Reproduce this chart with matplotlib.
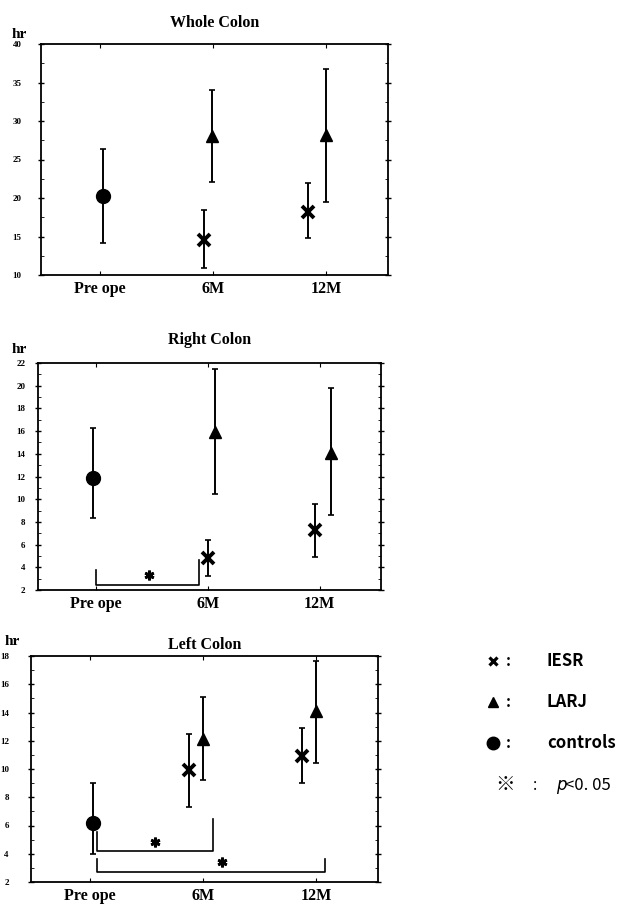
import matplotlib
matplotlib.use("Agg")
from matplotlib import pyplot as plt
from matplotlib.ticker import MultipleLocator

# Categories on the x axis
categories = ["Pre ope", "6M", "12M"]

# Whole colon (hr): mean, lower and upper end of the error bar
whole_ctrl = [20.2]
whole_ctrl_lo = [14.2]
whole_ctrl_hi = [26.4]
whole_iesr = [14.6, 18.2]
whole_iesr_lo = [10.9, 14.8]
whole_iesr_hi = [18.5, 22.0]
whole_larj = [28.0, 28.2]
whole_larj_lo = [22.1, 19.5]
whole_larj_hi = [34.0, 36.8]

# Right colon
right_ctrl = [11.9]
right_ctrl_lo = [8.3]
right_ctrl_hi = [16.3]
right_iesr = [4.8, 7.3]
right_iesr_lo = [3.2, 4.9]
right_iesr_hi = [6.4, 9.6]
right_larj = [15.9, 14.1]
right_larj_lo = [10.5, 8.6]
right_larj_hi = [21.5, 19.8]

# Left colon
left_ctrl = [6.2]
left_ctrl_lo = [4.0]
left_ctrl_hi = [9.0]
left_iesr = [9.9, 10.9]
left_iesr_lo = [7.3, 9.0]
left_iesr_hi = [12.45, 12.9]
left_larj = [12.1, 14.1]
left_larj_lo = [9.2, 10.4]
left_larj_hi = [15.1, 17.65]

# Legend entries
legend_names = ["IESR", "LARJ", "controls"]

W, H = 627, 911
SERIF = "Liberation Serif"
GOTHIC = ["Noto Sans CJK JP", "DejaVu Sans"]
MARKERS = {"IESR": ("x", 8, 2.8), "LARJ": ("^", 8, 1), "controls": ("o", 10, 1)}


def px_rect(l, t, r, b):
    return [l / W, 1 - b / H, (r - l) / W, (b - t) / H]


def px(x, y):
    return x / W, 1 - y / H


def draw_series(ax, name, cats, mean, lo, hi, offs):
    xs = [categories.index(c) + o for c, o in zip(cats, offs)]
    yerr = [[m - l for m, l in zip(mean, lo)], [h - m for m, h in zip(mean, hi)]]
    ax.errorbar(xs, mean, yerr=yerr, fmt="none", ecolor="black",
                elinewidth=1.4, capsize=2.5, capthick=1.2)
    m, ms, mew = MARKERS[name]
    ax.plot(xs, mean, m, color="black", ms=ms, mew=mew, zorder=3)


def bracket(ax, x0, x1, y0, yl, yr, sx, sy):
    # significance bracket with a six-armed star
    ax.plot([x0, x0, x1, x1], [yl, y0, y0, yr], color="black", lw=1.2)
    ax.plot([sx], [sy], marker=(6, 2, 0), color="black", ms=7, mew=2)


def setup(ax, title, pad, ymin, ymax, ystep, lpad):
    ax.set_xlim(-0.52, 2.55)
    ax.set_ylim(ymin, ymax)
    ax.set_xticks(range(len(categories)))
    ax.set_xticklabels(categories, family=SERIF, fontsize=11.5, fontweight="bold")
    ax.yaxis.set_major_locator(MultipleLocator(ystep))
    ax.yaxis.set_minor_locator(MultipleLocator(ystep / 2))
    for lab in ax.get_yticklabels():
        lab.set_fontweight("bold")
        lab.set_fontsize(6.5)
        lab.set_family(SERIF)
    ax.tick_params(axis="y", which="major", direction="inout", length=4,
                   right=True, pad=lpad, width=1)
    ax.tick_params(axis="y", which="minor", direction="in", length=2, right=True)
    ax.tick_params(axis="x", direction="in", length=3, top=True, pad=4)
    for s in ax.spines.values():
        s.set_linewidth(1.3)
    ax.set_title(title, family=SERIF, fontsize=11.5, fontweight="bold", pad=pad)


fig = plt.figure(figsize=(6.27, 9.11), dpi=100)

# Whole colon
ax1 = fig.add_axes(px_rect(41, 44, 388, 275))
draw_series(ax1, "controls", ["Pre ope"], whole_ctrl, whole_ctrl_lo, whole_ctrl_hi, [0.03])
draw_series(ax1, "IESR", ["6M", "12M"], whole_iesr, whole_iesr_lo, whole_iesr_hi, [-0.08, -0.16])
draw_series(ax1, "LARJ", ["6M", "12M"], whole_larj, whole_larj_lo, whole_larj_hi, [-0.01, 0.0])
setup(ax1, "Whole Colon", 12, 10, 40, 5, 12)
fig.text(*px(12, 38), "hr", family=SERIF, fontsize=11, fontweight="bold")

# Right colon
ax2 = fig.add_axes(px_rect(38, 363, 381, 590))
draw_series(ax2, "controls", ["Pre ope"], right_ctrl, right_ctrl_lo, right_ctrl_hi, [-0.03])
draw_series(ax2, "IESR", ["6M", "12M"], right_iesr, right_iesr_lo, right_iesr_hi, [0.0, -0.04])
draw_series(ax2, "LARJ", ["6M", "12M"], right_larj, right_larj_lo, right_larj_hi, [0.065, 0.1])
bracket(ax2, 0.0, 0.92, 2.44, 3.76, 4.6, 0.47, 3.3)
setup(ax2, "Right Colon", 14, 2, 22, 2, 7)
fig.text(*px(12, 353), "hr", family=SERIF, fontsize=11, fontweight="bold")

# Left colon
ax3 = fig.add_axes(px_rect(31, 656, 378, 882))
draw_series(ax3, "controls", ["Pre ope"], left_ctrl, left_ctrl_lo, left_ctrl_hi, [0.03])
draw_series(ax3, "IESR", ["6M", "12M"], left_iesr, left_iesr_lo, left_iesr_hi, [-0.12, -0.12])
draw_series(ax3, "LARJ", ["6M", "12M"], left_larj, left_larj_lo, left_larj_hi, [0.0, 0.0])
bracket(ax3, 0.06, 1.09, 4.2, 5.55, 6.45, 0.58, 4.84)
bracket(ax3, 0.06, 2.08, 2.7, 3.65, 3.65, 1.17, 3.42)
setup(ax3, "Left Colon", 5, 2, 18, 2, 14)
fig.text(*px(5, 645), "hr", family=SERIF, fontsize=11, fontweight="bold")

# Legend key, drawn on an overlay in pixel units
lax = fig.add_axes([0, 0, 1, 1])
lax.set_xlim(0, W)
lax.set_ylim(H, 0)
lax.axis("off")
leg_sizes = {"IESR": (5.5, 2.3), "LARJ": (7, 1), "controls": (9, 1)}
for i, n in enumerate(legend_names):
    y = 661 + i * 41
    m = MARKERS[n][0]
    ms, mew = leg_sizes[n]
    lax.plot([493], [y], m, color="black", ms=ms, mew=mew)
    lax.text(508, y, ":", ha="center", va="center", fontsize=11,
             fontweight="bold", family=GOTHIC)
    lax.text(547, y, n, ha="left", va="center", fontsize=12,
             fontweight="bold", family=GOTHIC)
lax.text(505, 785, "※", ha="center", va="center", fontsize=14, family=GOTHIC)
lax.text(535, 785, ":", ha="center", va="center", fontsize=11, family=GOTHIC)
lax.text(556, 785, "p", ha="left", va="center", fontsize=12, style="italic",
         family="DejaVu Sans")
lax.text(565, 785, "<0. 05", ha="left", va="center", fontsize=12, family=GOTHIC)

fig.savefig("out.png", dpi=100)
